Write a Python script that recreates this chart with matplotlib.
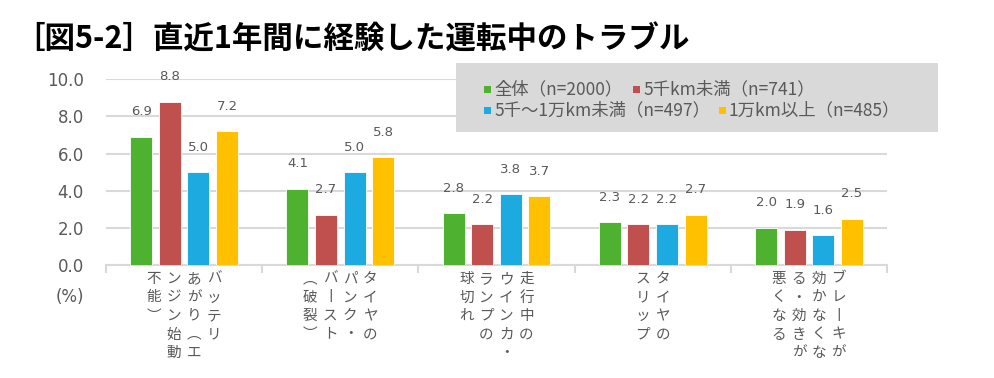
import numpy as np
import matplotlib.pyplot as plt
from matplotlib.patches import Rectangle

plt.rcParams['font.family'] = ['Noto Sans CJK JP', 'DejaVu Sans']

# données
series_names = ["全体（n=2000）", "5千km未満（n=741）", "5千～1万km未満（n=497）", "1万km以上（n=485）"]
colors = ["#4EB12F", "#C0504D", "#1DAAE0", "#FFC000"]
v_all = [6.9, 4.1, 2.8, 2.3, 2.0]
v_lt5k = [8.8, 2.7, 2.2, 2.2, 1.9]
v_5k_10k = [5.0, 5.0, 3.8, 2.2, 1.6]
v_gt10k = [7.2, 5.8, 3.7, 2.7, 2.5]
values = [v_all, v_lt5k, v_5k_10k, v_gt10k]

# étiquettes verticales : colonnes de droite à gauche
cat_cols = [
    ["バッテリ", "あがり︵エ", "ンジン始動", "不能︶"],
    ["タイヤの", "パンク・", "バ丨スト", "︵破裂︶"],
    ["走行中の", "ウインカ・", "ランプの", "球切れ"],
    ["タイヤの", "スリップ"],
    ["ブレ丨キが", "効かなくな", "る・効きが", "悪くなる"],
]
yticks = [0, 2, 4, 6, 8, 10]

GRAY = "#595959"
GRID = "#D9D9D9"

fig = plt.figure(figsize=(9.95, 3.78), dpi=100)
ax = fig.add_axes([106/995, (378-265)/378, (887-106)/995, (265-79.3)/378])

x = np.arange(len(v_all))
step = 0.183
width = 0.14
for i, (vals, c) in enumerate(zip(values, colors)):
    pos = x + (i - 1.5)*step
    bars = ax.bar(pos, vals, width, color=c, edgecolor='white', linewidth=0.6, zorder=3)
    for b, v in zip(bars, vals):
        ax.annotate(f"{v:.1f}", (b.get_x() + b.get_width()/2, v), xytext=(0, 25),
                    textcoords='offset pixels', ha='center', va='center',
                    fontsize=9.5, color=GRAY, family='DejaVu Sans')

ax.set_xlim(-0.5, 4.5)
ax.set_ylim(0, 10)
ax.set_yticks(yticks)
ax.set_yticklabels([f"{t:.1f}" for t in yticks], family='DejaVu Sans')
ax.tick_params(axis='y', length=0, pad=16, labelsize=12, labelcolor=GRAY)
ax.set_xticks(np.arange(-0.5, 5, 1))
ax.set_xticklabels([])
ax.tick_params(axis='x', length=6, width=1.5, color=GRID, direction='out')
for s in ['top', 'right', 'left']:
    ax.spines[s].set_visible(False)
ax.spines['bottom'].set_color(GRID)
ax.spines['bottom'].set_linewidth(1.5)
ax.yaxis.grid(True, color=GRID, linewidth=1.5, zorder=0)
ax.set_axisbelow(True)

# étiquettes de catégories en vertical
col_gap = 0.128
for i, cols in enumerate(cat_cols):
    n = len(cols)
    for j, col in enumerate(cols):
        cx = i + ((n - 1)/2 - j)*col_gap
        for k, ch in enumerate(col):
            ax.annotate(ch, (cx, 0), xycoords=('data', 'axes fraction'),
                        xytext=(0, -(14 + k*18.5)), textcoords='offset pixels',
                        ha='center', va='center', fontsize=10.5, color=GRAY,
                        annotation_clip=False)

fig.text(70/995, (378-297)/378, "(%)", ha='center', va='center', fontsize=12,
         color=GRAY, family='DejaVu Sans')

# titre
fig.text(14/995, (378-40)/378, "［図5-2］直近1年間に経験した運転中のトラブル",
         ha='left', va='center', fontsize=22, fontweight='bold', color='black')

# légende faite à la main
fig.patches.append(Rectangle((456/995, (378-132)/378), 482/995, 69/378,
                             transform=fig.transFigure, facecolor=GRID,
                             edgecolor='none', zorder=5))
leg_pos = [(484, 89), (633, 89), (484, 110), (719, 110)]
for (px, py), name, c in zip(leg_pos, series_names, colors):
    fig.patches.append(Rectangle((px/995, (378-py-3.5)/378), 7/995, 7/378,
                                 transform=fig.transFigure, facecolor=c,
                                 edgecolor='none', zorder=6))
    fig.text((px + 10)/995, (378-py)/378, name, ha='left', va='center',
             fontsize=12.5, color=GRAY, zorder=7)

fig.savefig("out.png", dpi=100)
